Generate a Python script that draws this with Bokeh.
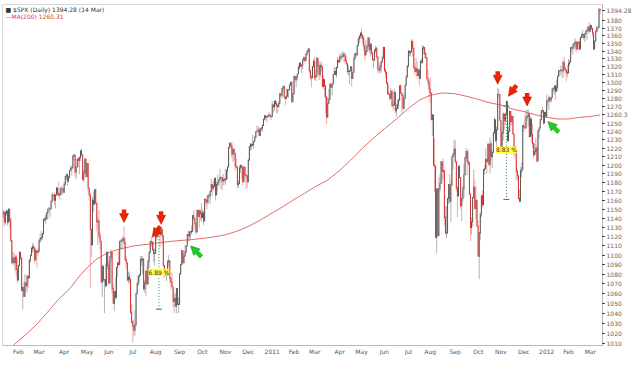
import math
from bokeh.plotting import figure
from bokeh.models import (Range1d, FixedTicker, Label, Arrow, NormalHead,
                          ColumnDataSource, NumeralTickFormatter)
from bokeh.embed import file_html
from bokeh.resources import INLINE

# ---------------- data ----------------
# trading days per month, first entry = Jan 2010 from Jan 11
month_days = [14, 19, 23, 21, 20, 22, 21, 22, 21, 21, 21, 22,
              20, 19, 23, 20, 21, 22, 20, 23, 21, 21, 21, 21,
              20, 20, 10]
month_labels = ["Feb", "Mar", "Apr", "May", "Jun", "Jul", "Aug", "Sep", "Oct", "Nov", "Dec",
                "2011", "Feb", "Mar", "Apr", "May", "Jun", "Jul", "Aug", "Sep", "Oct", "Nov", "Dec",
                "2012", "Feb", "Mar"]

first_open = 1145
closes = [
 1147,1136,1146,1148,1136,1150,1138,1116,1092,1097,1092,1098,1085,1074,
 1089,1103,1097,1063,1066,1057,1071,1068,1078,1076,1095,1100,1107,1109,1108,1095,1105,1103,1104,
 1116,1118,1119,1123,1139,1139,1140,1146,1150,1150,1151,1159,1166,1166,1160,1166,1174,1168,1166,1167,1173,1173,1169,
 1178,1187,1189,1182,1186,1194,1196,1197,1211,1212,1192,1198,1207,1206,1209,1217,1212,1184,1191,1207,1187,
 1202,1174,1166,1128,1111,1160,1156,1172,1157,1136,1137,1121,1115,1072,1088,1074,1074,1068,1103,1089,
 1071,1098,1103,1065,1050,1062,1056,1087,1092,1090,1115,1115,1116,1118,1113,1095,1092,1074,1077,1075,1041,1031,
 1027,1023,1028,1060,1070,1078,1079,1095,1095,1096,1065,1071,1083,1070,1094,1103,1115,1114,1106,1102,1102,
 1126,1120,1127,1126,1122,1128,1121,1089,1084,1079,1079,1093,1094,1076,1072,1067,1052,1055,1047,1065,1049,1049,
 1080,1090,1105,1092,1099,1104,1110,1122,1121,1125,1125,1126,1143,1140,1134,1125,1149,1142,1148,1145,1141,
 1146,1137,1161,1160,1158,1165,1165,1170,1178,1174,1176,1185,1166,1178,1180,1183,1186,1186,1182,1184,1183,
 1184,1194,1198,1221,1226,1223,1213,1219,1214,1199,1198,1178,1179,1197,1200,1198,1181,1198,1189,1188,1181,
 1206,1222,1225,1223,1224,1228,1233,1240,1240,1242,1235,1243,1244,1247,1255,1259,1257,1258,1259,1260,1258,1258,
 1272,1270,1277,1274,1272,1270,1274,1286,1284,1293,1295,1282,1280,1283,1291,1291,1297,1300,1276,1286,
 1308,1304,1307,1311,1319,1325,1321,1322,1329,1332,1328,1336,1340,1343,1315,1307,1306,1320,1327,
 1306,1308,1331,1321,1310,1322,1320,1295,1304,1296,1282,1257,1274,1279,1298,1294,1298,1310,1314,1310,1319,1328,1326,
 1332,1333,1333,1336,1334,1328,1324,1314,1314,1315,1320,1305,1313,1330,1337,1335,1347,1356,1360,1364,
 1361,1357,1347,1335,1340,1346,1357,1342,1349,1338,1329,1329,1341,1344,1333,1317,1316,1320,1326,1331,1345,
 1315,1313,1300,1286,1285,1280,1289,1271,1272,1288,1265,1268,1272,1278,1296,1287,1284,1268,1280,1297,1307,1321,
 1340,1338,1339,1353,1344,1319,1314,1318,1309,1316,1305,1327,1326,1344,1345,1337,1332,1305,1301,1292,
 1287,1254,1260,1200,1199,1119,1173,1121,1173,1179,1204,1193,1194,1141,1124,1124,1162,1178,1159,1177,1210,1213,1219,
 1204,1174,1165,1199,1186,1154,1162,1173,1189,1209,1216,1204,1202,1167,1130,1136,1163,1175,1151,1160,1131,
 1099,1124,1144,1165,1155,1195,1196,1207,1204,1225,1201,1225,1210,1215,1238,1254,1229,1242,1285,1285,1253,
 1218,1238,1261,1253,1261,1276,1229,1240,1264,1252,1258,1237,1216,1216,1193,1188,1162,1159,1193,1195,1247,
 1245,1244,1257,1258,1261,1234,1255,1236,1226,1212,1216,1220,1205,1241,1244,1254,1265,1265,1250,1263,1258,
 1277,1277,1281,1278,1281,1292,1292,1296,1289,1294,1308,1315,1315,1316,1315,1326,1318,1316,1313,1312,
 1324,1326,1345,1344,1347,1350,1352,1343,1352,1351,1343,1358,1361,1362,1358,1363,1366,1368,1372,1366,
 1374,1370,1364,1343,1353,1366,1371,1371,1396,1394.28,
]
highs = [
 1150,1143,1148,1150,1148,1151,1148,1141,1115,1103,1103,1100,1101,1096,
 1090,1104,1102,1097,1067,1072,1080,1071,1079,1077,1095,1100,1109,1113,1112,1108,1107,1104,1108,
 1117,1123,1126,1124,1139,1141,1144,1146,1150,1153,1151,1160,1169,1167,1169,1167,1175,1174,1181,1174,1175,1177,1174,
 1181,1188,1191,1189,1188,1194,1200,1199,1211,1213,1210,1198,1208,1210,1210,1217,1220,1211,1195,1209,1208,
 1203,1197,1174,1168,1128,1164,1170,1172,1173,1157,1141,1149,1125,1107,1090,1090,1075,1091,1104,1103,
 1094,1099,1106,1098,1070,1063,1077,1087,1092,1106,1115,1117,1118,1121,1131,1119,1099,1092,1083,1082,1071,1049,
 1033,1033,1043,1060,1072,1078,1080,1099,1099,1099,1095,1074,1084,1089,1094,1103,1115,1120,1114,1115,1107,
 1127,1126,1129,1127,1126,1129,1127,1112,1086,1086,1082,1095,1100,1094,1075,1082,1063,1060,1060,1065,1063,1056,
 1081,1091,1105,1103,1103,1111,1110,1124,1127,1126,1126,1132,1144,1149,1140,1136,1149,1149,1150,1149,1157,
 1150,1148,1162,1163,1165,1167,1168,1171,1184,1178,1182,1185,1178,1182,1189,1184,1196,1187,1185,1190,1186,
 1196,1195,1199,1221,1227,1225,1227,1219,1215,1213,1208,1198,1183,1200,1200,1198,1198,1198,1198,1190,1187,
 1208,1222,1225,1225,1236,1228,1235,1240,1247,1246,1245,1244,1245,1248,1255,1259,1260,1258,1260,1263,1261,1260,
 1277,1274,1277,1278,1277,1272,1277,1287,1287,1293,1296,1297,1282,1294,1291,1291,1299,1302,1302,1287,
 1308,1308,1308,1311,1322,1325,1325,1323,1330,1333,1331,1338,1341,1344,1342,1317,1310,1320,1330,
 1333,1315,1332,1331,1327,1325,1327,1320,1309,1304,1282,1282,1281,1292,1300,1299,1298,1311,1320,1319,1320,1332,1330,
 1337,1336,1339,1340,1338,1339,1335,1324,1322,1315,1321,1320,1313,1335,1338,1337,1349,1358,1361,1364,
 1371,1362,1360,1349,1355,1349,1359,1358,1351,1350,1338,1330,1343,1347,1346,1333,1324,1326,1328,1334,1346,
 1346,1318,1312,1300,1297,1287,1293,1289,1277,1292,1288,1274,1279,1280,1296,1298,1287,1287,1284,1297,1310,1322,
 1342,1341,1341,1356,1344,1334,1324,1331,1327,1317,1316,1328,1331,1348,1347,1344,1339,1330,1316,1304,
 1307,1287,1261,1260,1232,1199,1173,1172,1186,1190,1205,1203,1208,1191,1153,1154,1162,1178,1190,1182,1210,1215,1230,
 1230,1204,1176,1199,1200,1186,1163,1176,1202,1209,1220,1214,1219,1205,1166,1141,1164,1195,1184,1175,1160,
 1138,1125,1147,1165,1171,1195,1200,1220,1207,1225,1224,1233,1229,1217,1240,1257,1254,1246,1293,1292,1285,
 1239,1242,1263,1261,1262,1278,1262,1246,1266,1264,1260,1259,1237,1223,1215,1196,1188,1172,1198,1203,1247,
 1251,1260,1266,1266,1267,1260,1258,1255,1249,1226,1225,1232,1224,1241,1245,1255,1265,1270,1266,1264,1264,
 1285,1279,1284,1283,1282,1294,1294,1296,1296,1304,1309,1316,1316,1322,1316,1328,1333,1321,1316,1322,
 1330,1329,1345,1345,1350,1351,1357,1351,1353,1351,1356,1359,1364,1368,1362,1364,1368,1371,1373,1378,
 1376,1374,1370,1363,1354,1368,1374,1372,1396,1396,
]
lows = [
 1140,1131,1133,1143,1132,1135,1130,1114,1090,1092,1088,1083,1078,1071,
 1074,1089,1095,1063,1044,1057,1058,1062,1061,1066,1076,1092,1099,1103,1103,1091,1095,1087,1100,
 1105,1113,1116,1116,1125,1136,1134,1138,1138,1147,1141,1150,1159,1160,1155,1151,1166,1164,1165,1161,1166,1166,1169,
 1170,1178,1183,1176,1180,1186,1195,1188,1198,1206,1186,1184,1199,1198,1190,1205,1211,1181,1181,1191,1186,
 1187,1168,1160,1066,1098,1111,1147,1155,1156,1126,1111,1118,1105,1071,1056,1072,1040,1066,1069,1085,
 1069,1070,1092,1060,1050,1042,1053,1063,1077,1089,1090,1106,1106,1114,1108,1094,1085,1073,1070,1071,1039,1030,
 1011,1017,1018,1028,1059,1068,1071,1079,1089,1080,1063,1061,1057,1068,1071,1087,1103,1109,1105,1093,1089,
 1102,1116,1120,1120,1108,1122,1111,1088,1076,1079,1073,1081,1088,1071,1064,1067,1046,1040,1047,1040,1049,1040,
 1050,1080,1091,1091,1092,1104,1102,1113,1115,1115,1118,1122,1125,1137,1128,1122,1125,1142,1130,1138,1136,
 1140,1132,1138,1155,1150,1155,1162,1156,1171,1165,1171,1175,1160,1166,1171,1176,1184,1173,1171,1177,1180,
 1177,1185,1184,1200,1220,1219,1208,1204,1206,1194,1197,1173,1174,1180,1191,1184,1177,1181,1186,1173,1174,
 1187,1206,1217,1218,1223,1219,1228,1232,1240,1237,1234,1235,1240,1240,1248,1253,1254,1251,1256,1259,1256,1254,
 1258,1263,1265,1270,1262,1262,1269,1274,1282,1281,1288,1280,1272,1283,1283,1281,1291,1296,1275,1277,
 1287,1301,1294,1302,1311,1316,1319,1312,1317,1327,1324,1329,1335,1338,1312,1303,1294,1307,1320,
 1303,1302,1311,1312,1303,1306,1314,1295,1292,1282,1262,1249,1261,1276,1280,1293,1284,1298,1310,1310,1306,1320,1325,
 1326,1329,1328,1332,1326,1325,1322,1311,1309,1298,1314,1295,1305,1313,1331,1331,1336,1347,1350,1356,
 1356,1349,1341,1329,1335,1338,1346,1338,1333,1335,1328,1318,1327,1338,1330,1312,1313,1311,1313,1325,1331,
 1314,1306,1297,1285,1285,1278,1281,1270,1266,1272,1262,1258,1268,1267,1278,1286,1262,1266,1267,1281,1297,1307,
 1319,1334,1333,1342,1333,1318,1309,1314,1306,1308,1296,1306,1324,1324,1336,1331,1330,1303,1296,1282,
 1275,1254,1235,1200,1169,1119,1102,1121,1121,1170,1180,1180,1184,1132,1122,1118,1124,1156,1156,1136,1179,1195,1209,
 1203,1170,1141,1166,1185,1150,1137,1158,1163,1189,1205,1188,1200,1166,1115,1122,1131,1163,1150,1139,1131,
 1099,1075,1116,1141,1152,1156,1189,1196,1190,1207,1199,1191,1206,1197,1216,1239,1227,1221,1243,1281,1253,
 1216,1219,1229,1242,1248,1260,1227,1228,1240,1247,1247,1236,1209,1212,1183,1182,1161,1158,1173,1186,1196,
 1239,1243,1253,1253,1246,1232,1234,1227,1220,1209,1212,1213,1203,1206,1231,1244,1254,1262,1248,1251,1257,
 1258,1271,1266,1275,1275,1281,1288,1285,1278,1289,1290,1308,1309,1310,1306,1306,1314,1310,1301,1307,
 1313,1321,1326,1339,1336,1342,1344,1338,1343,1341,1341,1344,1357,1357,1355,1352,1363,1355,1365,1363,
 1366,1368,1359,1341,1344,1354,1366,1366,1372,1389,
]

# 200-day moving average, read at roughly two-week steps
ma_idx = [0, 9, 20, 30, 40, 50, 62, 70, 78, 86, 95, 105, 120, 135, 155, 175, 190, 204, 215, 225,
          236, 247, 257, 267, 277, 286, 298, 309, 319, 329, 340, 350, 361, 372, 382, 392, 403, 415,
          425, 436, 446, 457, 468, 478, 489, 499, 509, 519, 529, 539, 548]
ma_val = [999, 1008, 1018, 1028, 1040, 1053, 1066, 1078, 1088, 1096, 1102, 1106, 1110, 1112, 1115,
          1117, 1119, 1122, 1126, 1131, 1138, 1146, 1153, 1161, 1168, 1175, 1183, 1194, 1206, 1219,
          1232, 1243, 1255, 1268, 1278, 1284, 1287, 1286, 1283, 1279, 1275, 1272, 1267, 1264, 1260,
          1257, 1255, 1255, 1257, 1258, 1260]

last_close_text = "1394.28"
ma_last_text = "1260.31"
y_ticks = [1010, 1020, 1030, 1040, 1050, 1060, 1070, 1080, 1090, 1100, 1110, 1120, 1130, 1140,
           1150, 1160, 1170, 1180, 1190, 1200, 1210, 1220, 1230, 1240, 1250, 1270, 1280, 1290,
           1300, 1310, 1320, 1330, 1340, 1350, 1360, 1370, 1380]

# annotations (trading-day index of the marked candle)
down_arrow_idx = [111, 145, 454, 481]
tilt_arrow_idx = [135, 462]
green_arrow_idx = [172, 500]
green_arrow_price = [1110, 1252]
meas_idx = [143, 462]
meas_top = [1127, 1271]
meas_bot = [1044, 1161]
meas_mid = [1082, 1218]
meas_text = ["6.89 %", "8.83 %"]

# ---------------- layout ----------------
FW, FH = 600, 341
X0, X1 = -0.6, 550.2
Y0, Y1 = 1008.0, 1402.0
FONT = "DejaVu Sans"
KY = FH / math.log(Y1 / Y0)   # px per ln unit
KX = FW / (X1 - X0)           # px per index

def py(p, px):
    return p * math.exp(px / KY)

def ix(px):
    return px / KX

n = len(closes)
assert len(highs) == n and len(lows) == n and sum(month_days) == n
idx = list(range(n))
opens = [first_open] + closes[:-1]
hi = [max(h, o, c) for h, o, c in zip(highs, opens, closes)]
lo = [min(l, o, c) for l, o, c in zip(lows, opens, closes)]
up = [c >= o for o, c in zip(opens, closes)]

src = ColumnDataSource(dict(
    x=idx, hi=hi, lo=lo,
    top=[max(o, c) + 0.6 for o, c in zip(opens, closes)],
    bot=[min(o, c) - 0.6 for o, c in zip(opens, closes)],
    wick=["#b4b4b4" if u else "#efaaaa" for u in up],
    body=["#3a3a3a" if u else "#d40000" for u in up],
))

p = figure(frame_width=FW, frame_height=FH,
           x_range=Range1d(X0, X1), y_range=Range1d(Y0, Y1),
           y_axis_type="log", y_axis_location="right",
           output_backend="svg", toolbar_location=None,
           min_border_left=2, min_border_top=4, min_border_right=0, min_border_bottom=0)
p.background_fill_color = "white"
p.border_fill_color = "white"
p.outline_line_color = "#d8d8d8"
p.grid.visible = False

# candles
p.segment(x0="x", y0="lo", x1="x", y1="hi", source=src, line_color="wick", line_width=1)
p.vbar(x="x", top="top", bottom="bot", width=0.75, source=src, fill_color="body",
       fill_alpha=0.9, line_color=None)

# MA(200)
p.line(ma_idx, ma_val, line_color="#e05050", line_width=1, line_alpha=0.85)

# measurement lines
for i, t, b, m, txt in zip(meas_idx, meas_top, meas_bot, meas_mid, meas_text):
    p.segment(x0=[i], y0=[t], x1=[i], y1=[b], line_color="#3c8a3c", line_dash="1 2", line_width=1)
    p.segment(x0=[i - ix(3), i - ix(3)], y0=[t, b], x1=[i + ix(3), i + ix(3)], y1=[t, b],
              line_color="#3c8a3c", line_width=1)
    p.add_layout(Label(x=i, y=m, text=txt, text_font=FONT, text_font_size="6px",
                       text_align="center", text_baseline="middle", text_color="#333",
                       background_fill_color="#ffff33", background_fill_alpha=0.9))

RED, DRED, GREEN, DGREEN = "#f02000", "#a01000", "#22cc22", "#118811"
for i in down_arrow_idx:
    h = hi[i]
    p.add_layout(Arrow(end=NormalHead(size=9, fill_color=RED, line_color=DRED, line_width=0.5),
                       x_start=i, y_start=py(h, 17), x_end=i, y_end=py(h, 4),
                       line_color=RED, line_width=4.5))
for i in tilt_arrow_idx:
    h = hi[i]
    p.add_layout(Arrow(end=NormalHead(size=9, fill_color=RED, line_color=DRED, line_width=0.5),
                       x_start=i + ix(10), y_start=py(h, 15), x_end=i + ix(2), y_end=py(h, 4),
                       line_color=RED, line_width=4.5))
for i, gp in zip(green_arrow_idx, green_arrow_price):
    p.add_layout(Arrow(end=NormalHead(size=9, fill_color=GREEN, line_color=DGREEN, line_width=0.5),
                       x_start=i + ix(11), y_start=py(gp, -11), x_end=i, y_end=gp,
                       line_color=GREEN, line_width=4.5))

# title / legend text
p.add_layout(Label(x=X0, y=Y1, x_offset=3, y_offset=-8, text="\u25a0 $SPX (Daily) 1394.28 (14 Mar)",
                   text_font=FONT, text_font_size="6px", text_color="#333"))
p.add_layout(Label(x=X0, y=Y1, x_offset=3, y_offset=-15, text="\u2014MA(200) " + ma_last_text,
                   text_font=FONT, text_font_size="6px", text_color="#e04040"))

# axes
starts = []
acc = 0
for d in month_days:
    starts.append(acc)
    acc += d
tick_pos = starts[1:]
xa = p.xaxis[0]
xa.ticker = FixedTicker(ticks=tick_pos)
xa.major_label_overrides = {t: l for t, l in zip(tick_pos, month_labels)}
xa.major_label_text_font = FONT
xa.major_label_text_font_size = "6px"
xa.major_label_text_color = "#555"
xa.major_label_standoff = 2
xa.major_tick_out = 0
xa.major_tick_in = 0
xa.minor_tick_out = 0
xa.axis_line_color = "#bbbbbb"

last_close = closes[-1]
ma_last = float(ma_last_text)
ya = p.yaxis[0]
ya.ticker = FixedTicker(ticks=y_ticks + [last_close, ma_last])
ya.formatter = NumeralTickFormatter(format="0")
ya.major_label_overrides = {last_close: last_close_text, ma_last: "1260.3"}
ya.major_label_text_font = FONT
ya.major_label_text_font_size = "6px"
ya.major_label_text_color = "#666"
ya.major_label_standoff = 2
ya.major_tick_out = 2
ya.major_tick_in = 0
ya.minor_tick_out = 0
ya.minor_tick_in = 0
ya.axis_line_color = "#999"
ya.axis_line_dash = "1 1"

open("out.html", "w").write(file_html(p, INLINE))
